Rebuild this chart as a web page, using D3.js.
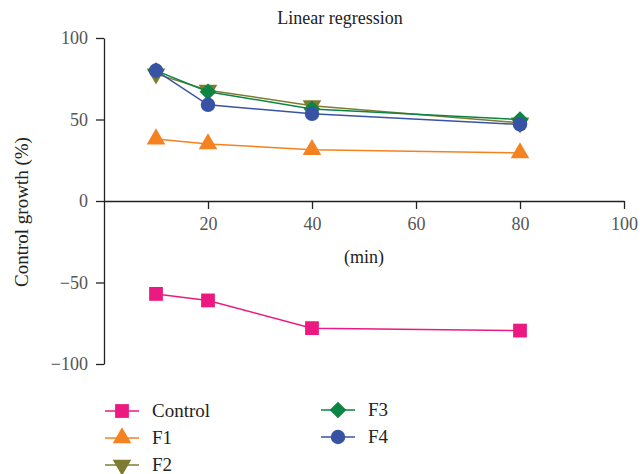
<!DOCTYPE html>
<html>
<head>
<meta charset="utf-8">
<title>Linear regression</title>
<script src="https://d3js.org/d3.v7.min.js"></script>
<style>
  body { margin: 0; background: #fff; }
  svg text { font-family: "Liberation Serif", "DejaVu Serif", serif; }
</style>
</head>
<body>
<div id="viz"></div>
<script>

// data
var times = [10, 20, 40, 80];
var seriesNames = ["Control", "F1", "F2", "F3", "F4"];
var control = [-57, -61, -78, -79.5];
var f1 = [38, 35, 31.5, 29.5];
var f2 = [78, 68, 58.5, 48];
var f3 = [80, 67, 56.5, 50];
var f4 = [80, 59, 53.5, 47];
var xTicks = [20, 40, 60, 80, 100];
var yTicks = [-100, -50, 0, 50, 100];

var colors = ["#ec1a80", "#f58220", "#7d7c32", "#0c8442", "#3953a4"];
var shapes = ["square", "up", "down", "diamond", "circle"];
var sizes = [190, 150, 150, 140, 165];

var allSeries = [control, f1, f2, f3, f4].map(function(v, i) {
  return { name: seriesNames[i], color: colors[i], shape: shapes[i], size: sizes[i],
           values: v.map(function(d, j) { return { t: times[j], v: d }; }) };
});

var width = 640, height = 474;
var serif = "'Liberation Serif', 'DejaVu Serif', serif";
var svg = d3.select("#viz").append("svg")
  .attr("width", width).attr("height", height);

var x = d3.scaleLinear().domain([0, 100]).range([104, 624]);
var y = d3.scaleLinear().domain([-100, 100]).range([364, 38]);

// axes
var xAxis = svg.append("g")
  .attr("transform", "translate(0," + y(0) + ")")
  .call(d3.axisBottom(x).tickValues(xTicks).tickSize(8).tickPadding(8).tickSizeOuter(0));
var yAxis = svg.append("g")
  .attr("transform", "translate(" + x(0) + ",0)")
  .call(d3.axisLeft(y).tickValues(yTicks).tickSize(8).tickPadding(8).tickSizeOuter(0)
    .tickFormat(function(d) { return d < 0 ? "\u2212" + Math.abs(d) : d; }));

[xAxis, yAxis].forEach(function(g) {
  g.attr("font-family", serif).attr("font-size", 18);
  g.select(".domain").attr("stroke", "#222").attr("stroke-width", 1.3);
  g.selectAll(".tick line").attr("stroke", "#222").attr("stroke-width", 1.3);
  g.selectAll(".tick text").attr("fill", "#555");
});

// titles
svg.append("text").attr("x", 340).attr("y", 24).attr("text-anchor", "middle")
  .attr("fill", "#222").style("font-size", "18px").text("Linear regression");
svg.append("text").attr("x", x(50)).attr("y", 263).attr("text-anchor", "middle")
  .attr("fill", "#222").style("font-size", "18px").text("(min)");
svg.append("text").attr("transform", "translate(28," + 212 + ") rotate(-90)")
  .attr("text-anchor", "middle").attr("fill", "#222").style("font-size", "19px")
  .text("Control growth (%)");

function symbolPath(s) {
  if (s.shape === "square" || s.shape === "diamond") return d3.symbol(d3.symbolSquare, s.size)();
  if (s.shape === "circle") return d3.symbol(d3.symbolCircle, s.size)();
  return d3.symbol(d3.symbolTriangle, s.size)();
}
function symbolRot(s) {
  if (s.shape === "down") return " rotate(180)";
  if (s.shape === "diamond") return " rotate(45)";
  return "";
}

var line = d3.line().x(function(d) { return x(d.t); }).y(function(d) { return y(d.v); });

var groups = svg.selectAll(".series").data(allSeries).enter().append("g").attr("class", "series");
groups.append("path")
  .attr("d", function(s) { return line(s.values); })
  .attr("fill", "none")
  .attr("stroke", function(s) { return s.color; })
  .attr("stroke-width", 1.5);
groups.each(function(s) {
  d3.select(this).selectAll(".pt").data(s.values).enter().append("path")
    .attr("class", "pt")
    .attr("d", symbolPath(s))
    .attr("transform", function(d) { return "translate(" + x(d.t) + "," + y(d.v) + ")" + symbolRot(s); })
    .attr("fill", s.color);
});

// legend
var legendCols = [[0, 1, 2], [3, 4]];
var legend = svg.append("g");
legendCols.forEach(function(col, ci) {
  col.forEach(function(si, ri) {
    var s = allSeries[si];
    var lx = ci === 0 ? 105 : 321, ly = (ci === 0 ? 411 : 410) + ri * 27;
    var g = legend.append("g").attr("transform", "translate(" + lx + "," + ly + ")");
    g.append("line").attr("x1", 0).attr("x2", 34).attr("stroke", s.color).attr("stroke-width", 1.5);
    g.append("path").attr("d", symbolPath(s))
      .attr("transform", "translate(17,0)" + symbolRot(s)).attr("fill", s.color);
    g.append("text").attr("x", 47).attr("y", 6).attr("fill", "#222")
      .style("font-size", "19px").text(s.name);
  });
});

</script>
</body>
</html>
